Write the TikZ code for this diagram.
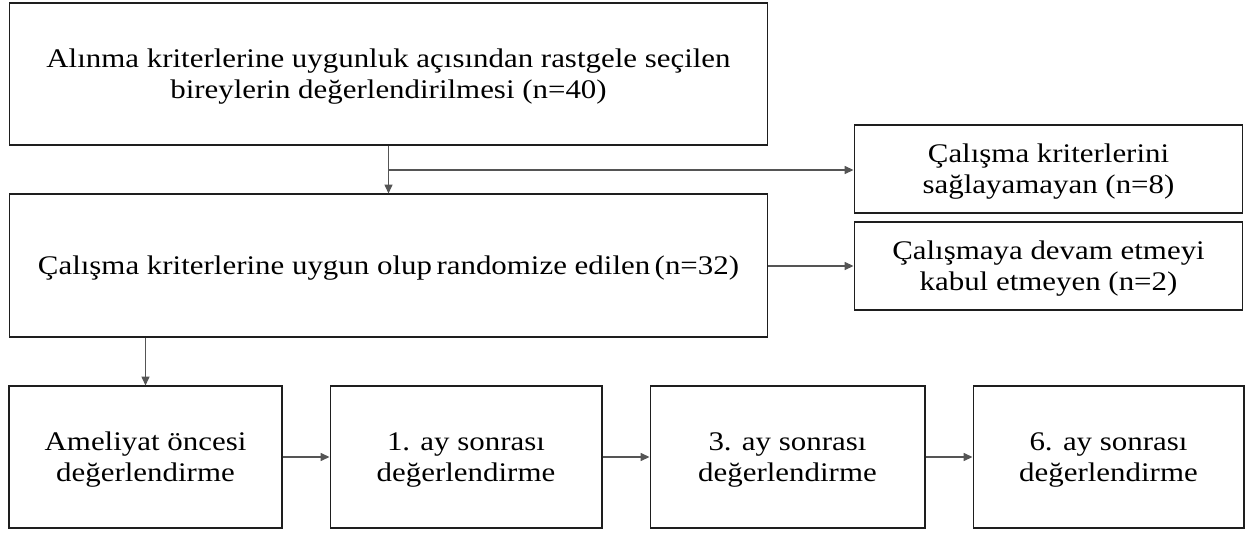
\documentclass[tikz,border=0pt]{standalone}
\usepackage{fontspec}
\setmainfont{Liberation Serif}[FakeStretch=1.15]
\usepackage{tikz}
\usetikzlibrary{arrows.meta, positioning}
\definecolor{lnblack}{RGB}{30,30,30}
\definecolor{argray}{RGB}{85,85,85}
\tikzset{
  fbox/.style={draw=lnblack, line width=0.6pt, fill=white, align=center, inner sep=2pt,
    text depth=0pt, font=\fontsize{15.3}{17.6}\selectfont},
  arr/.style={-{Triangle[length=5pt,width=4.5pt]}, line width=0.7pt, draw=argray},
}

\begin{document}
\begin{tikzpicture}[x=0.02cm, y=-0.02cm]
      \useasboundingbox (0,0) rectangle (1245,534);
      % main column
      \node[fbox, minimum width=15.18cm, minimum height=2.84cm] (crit) at (388.5,74)
        {Alınma kriterlerine uygunluk açısından rastgele seçilen\\bireylerin değerlendirilmesi (n=40)};
      \node[fbox, minimum width=15.18cm, minimum height=2.86cm] (rand) at (388.5,265.5)
        {Çalışma kriterlerine uygun olup\,randomize edilen\,(n=32)};
      % excluded
      \node[fbox, minimum width=7.78cm, minimum height=1.76cm] (excl) at (1048.5,169)
        {Çalışma kriterlerini\\sağlayamayan (n=8)};
      \node[fbox, minimum width=7.78cm, minimum height=1.76cm] (refu) at (1048.5,266)
        {Çalışmaya devam etmeyi\\kabul etmeyen (n=2)};
      % follow-up
      \node[fbox, minimum width=5.46cm, minimum height=2.84cm] (pre) at (145.5,457)
        {Ameliyat öncesi\\değerlendirme};
      \node[fbox, minimum width=5.44cm, minimum height=2.84cm] (m1) at (466,457)
        {1. ay sonrası\\değerlendirme};
      \node[fbox, minimum width=5.50cm, minimum height=2.84cm] (m3) at (787.5,457)
        {3. ay sonrası\\değerlendirme};
      \node[fbox, minimum width=5.42cm, minimum height=2.84cm] (m6) at (1108.5,457)
        {6. ay sonrası\\değerlendirme};
      % connectors
      \coordinate (split) at (389,170);
      \draw[arr] (crit.south) -- (rand.north);
      \draw[arr] (split) -- (split -| excl.west);
      \draw[arr] (rand.east |- refu.west) -- (refu.west);
      \draw[arr] (pre.north |- rand.south) -- (pre.north);
      \draw[arr] (pre.east) -- (m1.west);
      \draw[arr] (m1.east) -- (m3.west);
      \draw[arr] (m3.east) -- (m6.west);
    \end{tikzpicture}
\end{document}
